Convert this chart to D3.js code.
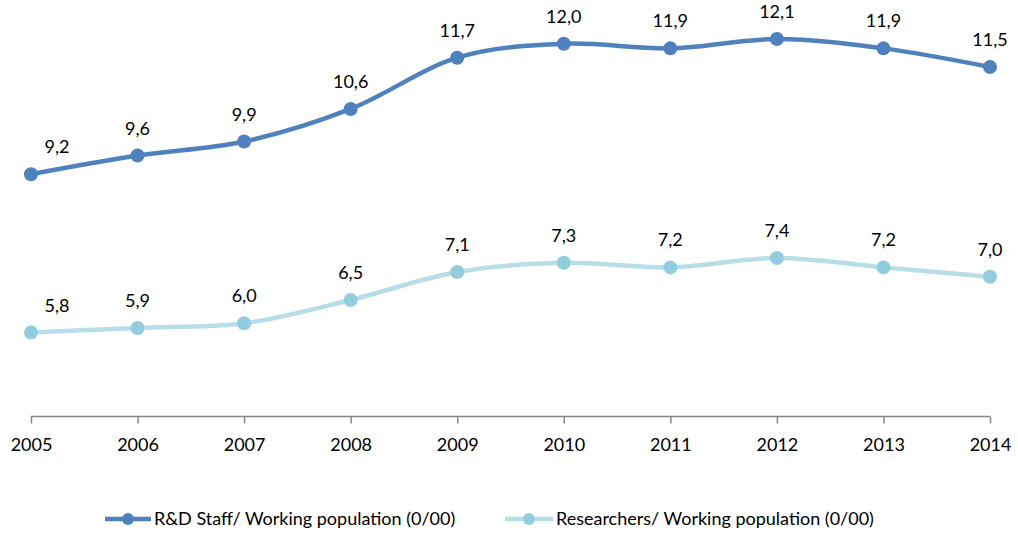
<!DOCTYPE html>
<html>
<head>
<meta charset="utf-8">
<script src="https://cdn.jsdelivr.net/npm/d3@7"></script>
<style>
  body { margin: 0; background: #fff; }
  svg text { font-family: Lato, "Open Sans", sans-serif; fill: #000; }
</style>
</head>
<body>
<div id="chart"></div>
<script>
const years = ['2005', '2006', '2007', '2008', '2009', '2010', '2011', '2012', '2013', '2014'];
const rdStaff = [9.2, 9.6, 9.9, 10.6, 11.7, 12.0, 11.9, 12.1, 11.9, 11.5];
const researchers = [5.8, 5.9, 6.0, 6.5, 7.1, 7.3, 7.2, 7.4, 7.2, 7.0];
const seriesNames = ['R&D Staff/ Working population (0/00)', 'Researchers/ Working population (0/00)'];

const W = 1018, H = 533;
const svg = d3.select('#chart').append('svg')
    .attr('width', W)
    .attr('height', H);

const x = d3.scalePoint()
    .domain(years)
    .range([31, 990]);
const y = d3.scaleLinear()
    .domain([4, 12])
    .range([416.5, 43.7]);

const series = [
    { name: seriesNames[0], values: rdStaff, line: '#4f81bd', marker: '#4f81bd' },
    { name: seriesNames[1], values: researchers, line: '#b7dee8', marker: '#93cddd' }
];

// X axis
const axis = svg.append('g')
    .attr('transform', `translate(0,${y(4)})`)
    .call(d3.axisBottom(x).tickSize(7).tickSizeOuter(0).tickPadding(15));
axis.select('.domain').attr('stroke', '#868686').attr('stroke-width', 1.5)
    .attr('d', `M${x(years[0])},0H${x(years[years.length - 1])}`);
axis.selectAll('.tick line').attr('stroke', '#868686').attr('stroke-width', 1.5);
axis.selectAll('.tick text')
    .style('font-size', '18px')
    .attr('fill', '#000');

const line = d3.line()
    .x((d, i) => x(years[i]))
    .y(d => y(d))
    .curve(d3.curveCardinal.tension(0));

series.forEach(s => {
    svg.append('path')
        .datum(s.values)
        .attr('fill', 'none')
        .attr('stroke', s.line)
        .attr('stroke-width', 4.5)
        .attr('d', line);
    svg.append('g').selectAll('circle')
        .data(s.values)
        .join('circle')
        .attr('cx', (d, i) => x(years[i]))
        .attr('cy', d => y(d))
        .attr('r', 7)
        .attr('fill', s.marker);
    // data labels
    svg.append('g').selectAll('text')
        .data(s.values)
        .join('text')
        .attr('x', (d, i) => x(years[i]) + (i === 0 ? 26 : 0))
        .attr('y', d => y(d) - 21)
        .attr('text-anchor', 'middle')
        .style('font-size', '18px')
        .text(d => d.toFixed(1).replace('.', ','));
});

// Legend
const legendItems = [
    { s: series[0], x0: 105, x1: 151, tx: 154 },
    { s: series[1], x0: 505, x1: 553, tx: 556 }
];
const ly = 519;
legendItems.forEach(l => {
    const g = svg.append('g');
    g.append('line')
        .attr('x1', l.x0).attr('x2', l.x1)
        .attr('y1', ly).attr('y2', ly)
        .attr('stroke', l.s.line)
        .attr('stroke-width', 4.5);
    g.append('circle')
        .attr('cx', (l.x0 + l.x1) / 2)
        .attr('cy', ly)
        .attr('r', 6)
        .attr('fill', l.s.marker);
    g.append('text')
        .attr('x', l.tx)
        .attr('y', ly + 6)
        .style('font-size', '18px')
        .text(l.s.name);
});
</script>
</body>
</html>
